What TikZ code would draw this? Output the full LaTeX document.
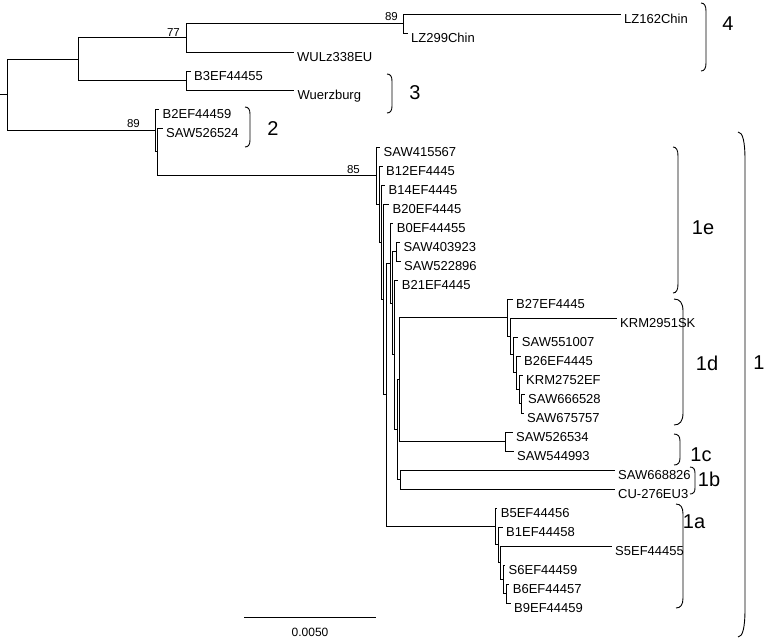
\documentclass[tikz,border=0pt]{standalone}
\usepackage{fontspec}
\setmainfont{Liberation Sans}
\tikzset{
  branch/.style={black, line width=0.9pt},
  leaf/.style={anchor=base west, inner sep=0pt, xshift=3.5pt, yshift=-9pt, font=\fontsize{13}{15}\selectfont},
  boot/.style={anchor=south east, inner sep=0pt, font=\fontsize{11.5}{13}\selectfont},
  clade/.style={black, line width=0.9pt},
  cladelabel/.style={inner sep=0pt, font=\fontsize{20}{24}\selectfont}
}

\begin{document}
\begin{tikzpicture}[x=1pt, y=-1pt]
  \useasboundingbox (0,0) rectangle (769,641);

  % tips of the branches, one row every 19 units
  \foreach \i/\x/\n/\t in {0/620.5/LZa/LZ162Chin, 1/407.5/LZb/LZ299Chin,
      2/293.5/WULz/WULz338EU, 3/190.5/Bthree/B3EF44455, 4/294/Wuerz/Wuerzburg,
      5/159/Btwo/B2EF44459, 6/162.5/SAWa/SAW526524, 7/380/SAWb/SAW415567,
      8/382.5/Btwelve/B12EF4445, 9/385/Bfourteen/B14EF4445, 10/389/Btwenty/B20EF4445,
      11/393.2/Bzero/B0EF44455, 12/399.8/SAWc/SAW403923, 13/400.5/SAWd/SAW522896,
      14/398.2/Btwentyone/B21EF4445, 15/512.5/Btwentyseven/B27EF4445,
      16/616.5/KRMa/KRM2951SK, 17/518.2/SAWe/SAW551007, 18/520.5/Btwentysix/B26EF4445,
      19/522.5/KRMb/KRM2752EF, 20/524.5/SAWf/SAW666528, 21/523.5/SAWg/SAW675757,
      22/512.5/SAWh/SAW526534, 23/513.5/SAWi/SAW544993, 24/614.5/SAWj/SAW668826,
      25/614.5/CU/CU-276EU3, 26/497.2/Bfive/B5EF44456, 27/502.5/Bone/B1EF44458,
      28/611.5/Sfive/S5EF44455, 29/505/Ssix/S6EF44459, 30/509.2/Bsix/B6EF44457,
      31/510.5/Bnine/B9EF44459}
  {
    \coordinate (\n) at (\x,{14+19*\i});
    \node[leaf] (\n-lbl) at (\n) {\t};
  }

  % inner nodes
  \coordinate (root0) at (0,94.8);
  \coordinate (root) at (7,94.8);
  \coordinate (up) at (78,59.1);
  \coordinate (upA) at (186,37.75);
  \coordinate (chin) at (403,23.5);
  \coordinate (upB) at (186,80.5);
  \coordinate (low) at (155,130.4);
  \coordinate (lowB) at (157,151.8);
  \coordinate (one) at (376,175.6);
  \coordinate (nA) at (379.3,204.1);
  \coordinate (nB) at (381.7,242.2);
  \coordinate (nC) at (383.3,299.4);
  \coordinate (nD) at (386.7,394.8);
  \coordinate (qA) at (390.7,263.1);
  \coordinate (qB) at (392.3,303.2);
  \coordinate (pair) at (396,251.5);
  \coordinate (qC) at (394.5,354.8);
  \coordinate (dcb) at (397.3,429.6);
  \coordinate (dc) at (399.3,379.6);
  \coordinate (dA) at (507.3,317.7);
  \coordinate (dB) at (510,336.4);
  \coordinate (dC) at (513,354.8);
  \coordinate (dD) at (516,372.6);
  \coordinate (dE) at (519,389.25);
  \coordinate (dF) at (521.5,403.5);
  \coordinate (cc) at (505,441.5);
  \coordinate (bb) at (400.5,479.5);
  \coordinate (aA) at (495,526.4);
  \coordinate (aB) at (498,544.8);
  \coordinate (aC) at (500.7,562.6);
  \coordinate (aD) at (503,579);
  \coordinate (aE) at (506.5,593.5);

  % branches
  \draw[branch] (root0) -- (root);
  \foreach \p/\c in {root/up, root/low, up/upA, up/upB, upA/chin, upA/WULz,
      chin/LZa, chin/LZb, upB/Bthree, upB/Wuerz, low/Btwo, low/lowB,
      lowB/SAWa, lowB/one, one/SAWb, one/nA, nA/Btwelve, nA/nB,
      nB/Bfourteen, nB/nC, nC/Btwenty, nC/nD, nD/qA, nD/aA,
      qA/Bzero, qA/qB, qB/pair, qB/qC, pair/SAWc, pair/SAWd,
      qC/Btwentyone, qC/dcb, dcb/dc, dcb/bb, dc/dA, dc/cc,
      dA/Btwentyseven, dA/dB, dB/KRMa, dB/dC, dC/SAWe, dC/dD,
      dD/Btwentysix, dD/dE, dE/KRMb, dE/dF, dF/SAWf, dF/SAWg,
      cc/SAWh, cc/SAWi, bb/SAWj, bb/CU,
      aA/Bfive, aA/aB, aB/Bone, aB/aC, aC/Sfive, aC/aD,
      aD/Ssix, aD/aE, aE/Bsix, aE/Bnine}
    \draw[branch] (\p) |- (\c);

  % bootstrap values
  \node[boot] (bsChin) at (398,21) {89};
  \node[boot] (bsUp) at (180,37) {77};
  \node[boot] (bsLow) at (140,127.5) {89};
  \node[boot] (bsOne) at (360,173.5) {85};

  % clade brackets
  \foreach \x/\ya/\yb/\w/\h in {706/3/71/5/8, 392/74/113/5/7, 250/107/147/5/7,
      678/147/293/5/9, 683/299/425/9/12, 680/434/465/6/7, 695/467/494/5/6,
      683/504/608/7/10, 745/132/637/7/28}
    \draw[clade] ({\x-\w},\ya) .. controls ({\x-\w/3},\ya) and (\x,{\ya+\h/3}) .. (\x,{\ya+\h})
      -- (\x,{\yb-\h}) .. controls (\x,{\yb-\h/3}) and ({\x-\w/3},\yb) .. ({\x-\w},\yb);
  \foreach \n/\x/\y/\t in {cFour/728/24/4, cThree/415/93/3, cTwo/273/129/2,
      cOneE/703/228/1e, cOneD/707/363/1d, cOneC/701/455/1c, cOneB/709/479/1b,
      cOneA/694/522/1a, cOne/759/363/1}
    \node[cladelabel] (\n) at (\x,\y) {\t};

  % scale bar
  \coordinate (barL) at (244,617);
  \coordinate (barR) at (376,617);
  \draw[branch] (barL) -- (barR);
  \node[inner sep=0pt, font=\fontsize{12}{14}\selectfont] (barlbl) at (310,632) {0.0050};
\end{tikzpicture}
\end{document}
